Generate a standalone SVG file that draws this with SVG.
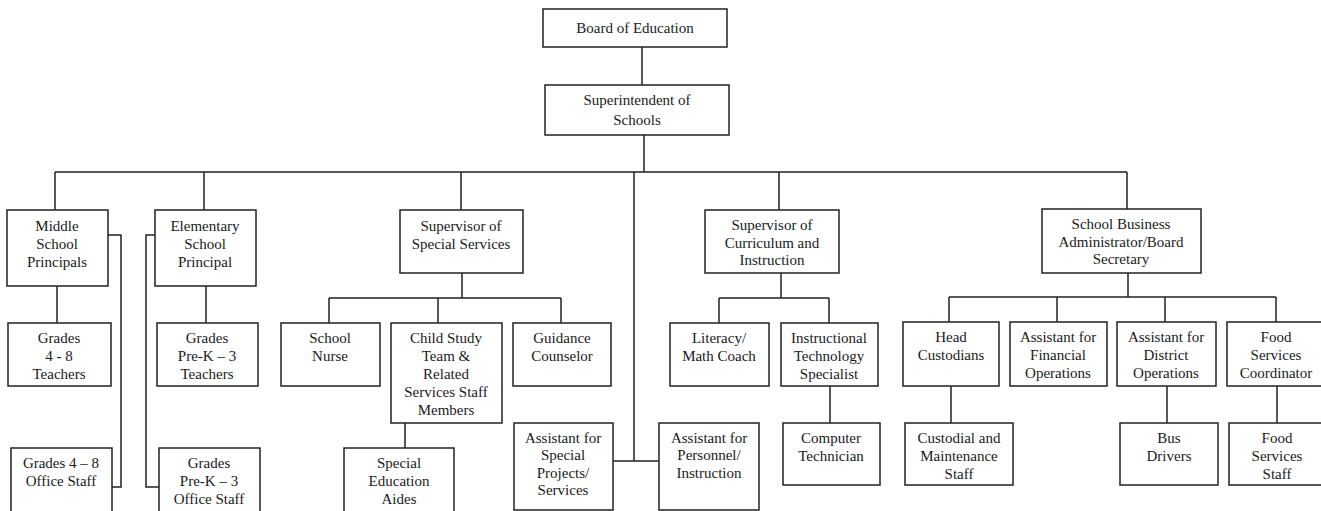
<svg xmlns="http://www.w3.org/2000/svg" width="1321" height="511" viewBox="0 0 1321 511">
<style>
.b{fill:#fff;stroke:#222;stroke-width:1.5}
.c{fill:none;stroke:#222;stroke-width:1.5}
text{font-family:"Liberation Serif","Times New Roman",serif;font-size:15px;fill:#1a1a1a;text-anchor:middle}
</style>
<rect width="1321" height="511" fill="#fff"/>
<g id="connectors" class="c">
<path d="M642 47V85M644 135V172M55 172H1127M55 172V210M204 172V210M461 172V210M634 172V461M779 172V210M1127 172V209"/>
<path d="M108 235H121V487H112M155 235H146V487H159"/>
<path d="M57 286V323M206 286V323"/>
<path d="M462 273V298M329 298H561M329 298V323M438 298V323M561 298V323M405 423V448"/>
<path d="M613 461H659"/>
<path d="M781 273V298M719 298H829M719 298V323M829 298V323M830 386V423"/>
<path d="M1128 273V297M949 297H1276M949 297V322M1057 297V322M1165 297V322M1276 297V322"/>
<path d="M951 386V423M1167 386V423M1277 386V423"/>
</g>
<g id="board"><rect class="b" x="543" y="9" width="184" height="38"/><text x="635" y="33">Board of Education</text></g>
<g id="superintendent"><rect class="b" x="545" y="85" width="184" height="50"/><text x="637" y="105">Superintendent of</text><text x="637" y="125">Schools</text></g>
<g id="middle"><rect class="b" x="7" y="210" width="101" height="76"/><text x="57" y="231">Middle</text><text x="57" y="249">School</text><text x="57" y="267">Principals</text></g>
<g id="elementary"><rect class="b" x="155" y="210" width="101" height="76"/><text x="205" y="231">Elementary</text><text x="205" y="249">School</text><text x="205" y="267">Principal</text></g>
<g id="special-services"><rect class="b" x="400" y="210" width="123" height="63"/><text x="461" y="231">Supervisor of</text><text x="461" y="249">Special Services</text></g>
<g id="curriculum"><rect class="b" x="705" y="210" width="134" height="63"/><text x="772" y="230">Supervisor of</text><text x="772" y="248">Curriculum and</text><text x="772" y="265">Instruction</text></g>
<g id="business"><rect class="b" x="1042" y="209" width="159" height="64"/><text x="1121" y="229">School Business</text><text x="1121" y="247">Administrator/Board</text><text x="1121" y="264">Secretary</text></g>
<g id="teachers-48"><rect class="b" x="8" y="323" width="103" height="63"/><text x="59" y="343">Grades</text><text x="59" y="361">4 - 8</text><text x="59" y="379">Teachers</text></g>
<g id="teachers-pk3"><rect class="b" x="157" y="323" width="101" height="63"/><text x="207" y="343">Grades</text><text x="207" y="361">Pre-K – 3</text><text x="207" y="379">Teachers</text></g>
<g id="nurse"><rect class="b" x="281" y="323" width="99" height="63"/><text x="330" y="343">School</text><text x="330" y="361">Nurse</text></g>
<g id="child-study"><rect class="b" x="391" y="323" width="111" height="100"/><text x="446" y="343">Child Study</text><text x="446" y="361">Team &amp;</text><text x="446" y="379">Related</text><text x="446" y="397">Services Staff</text><text x="446" y="415">Members</text></g>
<g id="guidance"><rect class="b" x="513" y="323" width="98" height="63"/><text x="562" y="343">Guidance</text><text x="562" y="361">Counselor</text></g>
<g id="literacy"><rect class="b" x="670" y="323" width="99" height="63"/><text x="719" y="343">Literacy/</text><text x="719" y="361">Math Coach</text></g>
<g id="instr-tech"><rect class="b" x="781" y="323" width="97" height="63"/><text x="829" y="343">Instructional</text><text x="829" y="361">Technology</text><text x="829" y="379">Specialist</text></g>
<g id="head-custodians"><rect class="b" x="903" y="322" width="96" height="64"/><text x="951" y="342">Head</text><text x="951" y="360">Custodians</text></g>
<g id="financial"><rect class="b" x="1010" y="322" width="97" height="64"/><text x="1058" y="342">Assistant for</text><text x="1058" y="360">Financial</text><text x="1058" y="378">Operations</text></g>
<g id="district"><rect class="b" x="1117" y="322" width="99" height="64"/><text x="1166" y="342">Assistant for</text><text x="1166" y="360">District</text><text x="1166" y="378">Operations</text></g>
<g id="food-coord"><rect class="b" x="1227" y="322" width="100" height="64"/><text x="1276" y="342">Food</text><text x="1276" y="360">Services</text><text x="1276" y="378">Coordinator</text></g>
<g id="office-48"><rect class="b" x="11" y="448" width="101" height="70"/><text x="61" y="468">Grades 4 – 8</text><text x="61" y="486">Office Staff</text></g>
<g id="office-pk3"><rect class="b" x="159" y="448" width="101" height="70"/><text x="209" y="468">Grades</text><text x="209" y="486">Pre-K – 3</text><text x="209" y="504">Office Staff</text></g>
<g id="aides"><rect class="b" x="344" y="448" width="110" height="70"/><text x="399" y="468">Special</text><text x="399" y="486">Education</text><text x="399" y="504">Aides</text></g>
<g id="special-projects"><rect class="b" x="514" y="423" width="99" height="87"/><text x="563" y="443">Assistant for</text><text x="563" y="460">Special</text><text x="563" y="478">Projects/</text><text x="563" y="495">Services</text></g>
<g id="personnel"><rect class="b" x="659" y="423" width="100" height="87"/><text x="709" y="443">Assistant for</text><text x="709" y="460">Personnel/</text><text x="709" y="478">Instruction</text></g>
<g id="computer-tech"><rect class="b" x="783" y="423" width="97" height="62"/><text x="831" y="443">Computer</text><text x="831" y="461">Technician</text></g>
<g id="custodial"><rect class="b" x="905" y="423" width="108" height="62"/><text x="959" y="443">Custodial and</text><text x="959" y="461">Maintenance</text><text x="959" y="479">Staff</text></g>
<g id="bus-drivers"><rect class="b" x="1120" y="423" width="98" height="62"/><text x="1169" y="443">Bus</text><text x="1169" y="461">Drivers</text></g>
<g id="food-staff"><rect class="b" x="1229" y="423" width="98" height="62"/><text x="1277" y="443">Food</text><text x="1277" y="461">Services</text><text x="1277" y="479">Staff</text></g>
</svg>
